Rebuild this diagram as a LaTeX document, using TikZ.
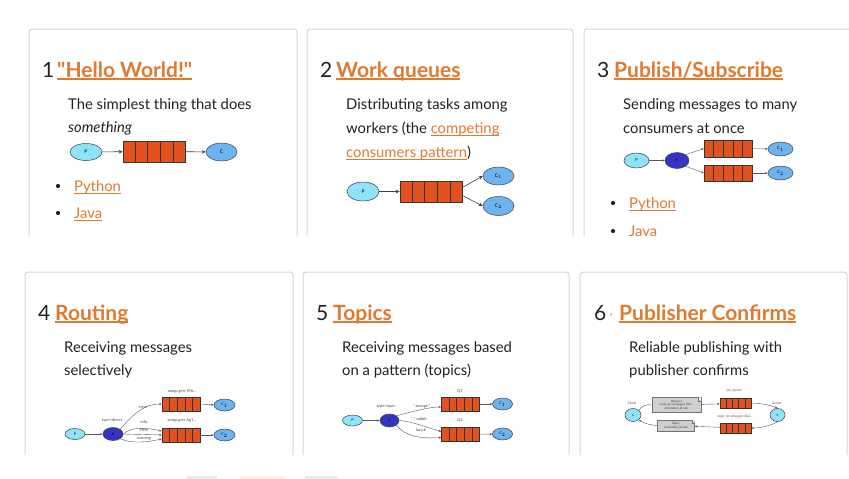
\documentclass[tikz,border=0pt]{standalone}
\usepackage{fontspec}
\setmainfont{Lato}
\usetikzlibrary{arrows.meta,calc,shapes.geometric}
\definecolor{rmqorange}{HTML}{E07A30}
\definecolor{qfill}{HTML}{E2521F}
\definecolor{pfill}{HTML}{8EE3F8}
\definecolor{cfill}{HTML}{6DB3F0}
\definecolor{xfill}{HTML}{3434C4}
\definecolor{cardline}{HTML}{D6D6D6}
\definecolor{txt}{HTML}{222222}
\definecolor{boxgray}{HTML}{CFCFCF}
\newcommand\myul[3]{\setbox0\hbox{#3}\rlap{\rule[-#1]{\wd0}{#2}}\box0}
\newcommand\lnk[1]{\textcolor{rmqorange}{\myul{2.8pt}{0.9pt}{#1}}}
\newcommand\qcells[1]{\foreach \i in {1,...,4}{\draw[qdiv] ($(#1.south west)!\i/5!(#1.south east)$) -- ($(#1.north west)!\i/5!(#1.north east)$);}}
\tikzset{
 num/.style={anchor=base west, inner sep=0, font=\fontsize{21}{24}\selectfont, text=txt},
 head/.style={anchor=base west, inner sep=0, font=\fontsize{21}{24}\selectfont\bfseries, text=rmqorange},
 body/.style={anchor=base west, inner sep=0, font=\fontsize{14.8}{17}\selectfont, text=txt},
 card/.style={draw=cardline, line width=1pt, rounded corners=3pt},
 ell/.style={ellipse, draw=black!75, line width=0.5pt, inner sep=0},
 pnode/.style={ell, fill=pfill},
 cnode/.style={ell, fill=cfill},
 xnode/.style={ell, fill=xfill},
 queue/.style={draw=black!80, fill=qfill, line width=0.6pt, inner sep=0},
 qdiv/.style={draw=black!80, line width=0.5pt},
 arr/.style={-{Stealth[length=4pt,width=3.5pt]}, line width=0.6pt, draw=black!75},
 sarr/.style={-{Stealth[length=2.6pt,width=2.2pt]}, line width=0.4pt, draw=black!65},
 tiny/.style={inner sep=0, font=\fontsize{4}{4.4}\selectfont, text=black!70},
 graybox/.style={draw=black!55, fill=boxgray, line width=0.4pt, inner sep=0.8pt, align=center, font=\fontsize{3}{3.4}\selectfont, text=black!75},
 bullet/.style={circle, fill=txt, inner sep=0, minimum size=4.2pt},
}
\begin{document}
\begin{tikzpicture}[x=1pt,y=-1pt]
\useasboundingbox (0,0) rectangle (849,479);
\fill[white] (0,0) rectangle (849,479);

% ---------------- top row ----------------
\begin{scope}
\clip (0,0) rectangle (849,235);
\draw[card] (29,245) -- (29,29) -- (297,29) -- (297,245);
\draw[card] (307,245) -- (307,29) -- (573,29) -- (573,245);
\draw[card] (584,245) -- (584,29) -- (870,29);

% card 1
\node[num] (n1) at (42,77) {1};
\node[head] (h1) at (57,77) {\myul{3pt}{1.7pt}{\textquotedbl Hello World!\textquotedbl}};
\node[body] (t11) at (68,109) {The simplest thing that does};
\node[body] (t12) at (68,132) {\itshape something};
\node[pnode, minimum width=32, minimum height=17] (p1) at (86,152) {\tiny P};
\node[queue, minimum width=62, minimum height=21] (q1) at (154,151.5) {};
\qcells{q1}
\node[cnode, minimum width=31, minimum height=18] (c1) at (221.5,152) {\tiny C};
\draw[arr] (p1) -- (q1);
\draw[arr] (q1) -- (c1);
\node[bullet] (b11) at (58,186) {};
\node[body] (py1) at (74,191) {\lnk{Python}};
\node[bullet] (b12) at (58,213) {};
\node[body] (ja1) at (74,218) {\lnk{Java}};

% card 2
\node[num] (n2) at (320,77) {2};
\node[head] (h2) at (336,77) {\myul{3pt}{1.7pt}{Work queues}};
\node[body] (t21) at (346,109) {Distributing tasks among};
\node[body] (t22) at (346,133) {workers (the \lnk{competing}};
\node[body] (t23) at (346,157) {\lnk{consumers pattern})};
\node[pnode, minimum width=32, minimum height=19] (p2) at (363,191.5) {\tiny P};
\node[queue, minimum width=62, minimum height=21] (q2) at (431,191.5) {};
\qcells{q2}
\node[cnode, minimum width=31, minimum height=18] (c21) at (498.5,176) {\tiny C$_1$};
\node[cnode, minimum width=31, minimum height=19] (c22) at (498.5,206) {\tiny C$_2$};
\draw[arr] (p2) -- (q2);
\draw[arr] ([yshift=4pt]q2.east) -- (c21.west);
\draw[arr] ([yshift=-4pt]q2.east) -- (c22.west);

% card 3
\node[num] (n3) at (597,77) {3};
\node[head] (h3) at (614,77) {\myul{3pt}{1.7pt}{Publish/Subscribe}};
\node[body] (t31) at (623,109) {Sending messages to many};
\node[body] (t32) at (623,133) {consumers at once};
\node[pnode, minimum width=25, minimum height=15] (p3) at (636.5,160.5) {\fontsize{4}{4}\selectfont P};
\node[xnode, minimum width=24, minimum height=16] (x3) at (677,160.5) {\fontsize{4}{4}\selectfont X};
\node[queue, minimum width=48, minimum height=17] (q31) at (728,148.5) {};
\qcells{q31}
\node[queue, minimum width=48, minimum height=16] (q32) at (728,173) {};
\qcells{q32}
\node[cnode, minimum width=25, minimum height=14] (c31) at (780.5,149) {\fontsize{4}{4}\selectfont C$_1$};
\node[cnode, minimum width=25, minimum height=14] (c32) at (780.5,173) {\fontsize{4}{4}\selectfont C$_2$};
\draw[sarr] (p3) -- (x3);
\draw[sarr] (x3.north east) -- (q31.west);
\draw[sarr] (x3.south east) -- (q32.west);
\draw[sarr] (q31) -- (c31);
\draw[sarr] (q32) -- (c32);
\node[bullet] (b31) at (613,203) {};
\node[body] (py3) at (629,208) {\lnk{Python}};
\node[bullet] (b32) at (613,231) {};
\node[body] (ja3) at (629,236) {\lnk{Java}};
\end{scope}

% ---------------- bottom row ----------------
\draw[card] (25,455) -- (25,272) -- (293,272) -- (293,455);
\draw[card] (303,455) -- (303,272) -- (569,272) -- (569,455);
\draw[card] (580,455) -- (580,272) -- (847,272) -- (847,455);

% card 4
\node[num] (n4) at (38,320) {4};
\node[head] (h4) at (55,320) {\myul{3pt}{1.7pt}{Routing}};
\node[body] (t41) at (64,352) {Receiving messages};
\node[body] (t42) at (64,375) {selectively};
\node[pnode, minimum width=20, minimum height=11] (p4) at (75,434) {\fontsize{3.5}{3.5}\selectfont P};
\node[xnode, minimum width=20, minimum height=13] (x4) at (113,434) {\fontsize{3.5}{3.5}\selectfont X};
\node[queue, minimum width=38, minimum height=14, line width=0.5pt] (q41) at (181,404) {};
\qcells{q41}
\node[queue, minimum width=38, minimum height=14, line width=0.5pt] (q42) at (181,435) {};
\qcells{q42}
\node[cnode, minimum width=21, minimum height=12] (c41) at (224.5,405) {\fontsize{3.5}{3.5}\selectfont C$_1$};
\node[cnode, minimum width=21, minimum height=12] (c42) at (224.5,435) {\fontsize{3.5}{3.5}\selectfont C$_2$};
\draw[sarr] (p4) -- (x4);
\draw[sarr] (x4.north east) .. controls (135,412) and (145,404) .. (q41.west);
\draw[sarr] (x4.east) .. controls (132,426) and (148,428) .. ([yshift=4pt]q42.west);
\draw[sarr] (x4.east) -- (q42.west);
\draw[sarr] (x4.south east) .. controls (132,444) and (148,442) .. ([yshift=-4pt]q42.west);
\draw[sarr] (q41) -- (c41);
\draw[sarr] (q42) -- (c42);
\node[tiny] (l41) at (182,391) {amqp.gen-S9b...};
\node[tiny] (l42) at (182,420) {amqp.gen-Ag1...};
\node[tiny] (l43) at (143,407) {error};
\node[tiny] (l44) at (112,420) {type=direct};
\node[tiny] (l45) at (144,422.5) {info};
\node[tiny] (l46) at (144,430) {error};
\node[tiny] (l47) at (144,438) {warning};

% card 5
\node[num] (n5) at (316,320) {5};
\node[head] (h5) at (333,320) {\myul{3pt}{1.7pt}{Topics}};
\node[body] (t51) at (342,352) {Receiving messages based};
\node[body] (t52) at (342,375) {on a pattern (topics)};
\node[pnode, minimum width=20, minimum height=11] (p5) at (352.5,420.5) {\fontsize{3.5}{3.5}\selectfont P};
\node[xnode, minimum width=19, minimum height=13] (x5) at (389.5,420.5) {\fontsize{3.5}{3.5}\selectfont X};
\node[queue, minimum width=38, minimum height=14, line width=0.5pt] (q51) at (460.5,404) {};
\qcells{q51}
\node[queue, minimum width=38, minimum height=14, line width=0.5pt] (q52) at (460.5,434.5) {};
\qcells{q52}
\node[cnode, minimum width=20, minimum height=12] (c51) at (502.5,404) {\fontsize{3.5}{3.5}\selectfont C$_1$};
\node[cnode, minimum width=20, minimum height=12] (c52) at (502.5,434) {\fontsize{3.5}{3.5}\selectfont C$_2$};
\draw[sarr] (p5) -- (x5);
\draw[sarr] (x5.north east) .. controls (412,412) and (428,407) .. ([yshift=-3pt]q51.west);
\draw[sarr] (x5.east) .. controls (415,422) and (428,428) .. ([yshift=3pt]q52.west);
\draw[sarr] (x5.south east) .. controls (405,436) and (420,439) .. ([yshift=-3pt]q52.west);
\draw[sarr] (q51) -- (c51);
\draw[sarr] (q52) -- (c52);
\node[tiny] (l51) at (460,391) {Q1};
\node[tiny] (l52) at (460,420) {Q2};
\node[tiny] (l53) at (386,406.5) {type=topic};
\node[tiny] (l54) at (422,406.5) {*.orange.*};
\node[tiny] (l55) at (419,419) {*.*.rabbit};
\node[tiny] (l56) at (421,430) {lazy.\#};

% card 6
\node[num] (n6) at (594,320) {6};
\node[num, text=black!70] (tk6) at (610,320) {\fontsize{9}{9}\selectfont '};
\node[head] (h6) at (619,320) {\myul{3pt}{1.7pt}{Publisher Confirms}};
\node[body] (t61) at (629,352) {Reliable publishing with};
\node[body] (t62) at (629,375) {publisher confirms};
\node[pnode, minimum width=16, minimum height=13] (cl6) at (633,415) {\fontsize{3}{3}\selectfont C};
\node[pnode, minimum width=15, minimum height=13] (sv6) at (777.5,415) {\fontsize{3}{3}\selectfont S};
\node[graybox, minimum width=49, minimum height=15] (rq6) at (676.5,405) {Request\\reply\_to=amqp.gen-Xa2...\\correlation\_id=abc};
\fill[white] (rq6.north east) -- ++(-3.5,0) -- ++(3.5,3.5) -- cycle;
\draw[black!55, line width=0.3pt] ([xshift=-3.5pt]rq6.north east) -- ++(0,3.5) -- ++(3.5,0);
\node[graybox, minimum width=37, minimum height=11] (rp6) at (676,425.5) {Reply\\correlation\_id=abc};
\fill[white] (rp6.north east) -- ++(-3,0) -- ++(3,3) -- cycle;
\draw[black!55, line width=0.3pt] ([xshift=-3pt]rp6.north east) -- ++(0,3) -- ++(3,0);
\node[queue, minimum width=31, minimum height=10, line width=0.5pt] (q61) at (735.5,403.5) {};
\qcells{q61}
\node[queue, minimum width=31, minimum height=10, line width=0.5pt] (q62) at (735.5,428) {};
\qcells{q62}
\node[tiny, font=\fontsize{3.3}{3.5}\selectfont] (l61) at (632,403) {Client};
\node[tiny, font=\fontsize{3.3}{3.5}\selectfont] (l62) at (777,403) {Server};
\node[tiny, font=\fontsize{3.3}{3.5}\selectfont] (l63) at (734,391) {rpc\_queue};
\node[tiny, font=\fontsize{3.3}{3.5}\selectfont] (l64) at (735,417) {reply\_to=amq.gen-Xa2...};
\draw[line width=0.4pt, draw=black!65] (cl6.north east) .. controls (642,406) and (646,404) .. (rq6.west);
\draw[sarr] (rq6) -- (q61);
\draw[sarr] (q61.east) .. controls (764,403) and (772,406) .. (sv6.north);
\draw[sarr] (sv6.south) .. controls (772,425) and (762,428) .. (q62.east);
\draw[sarr] (q62) -- (rp6);
\draw[sarr] (rp6.west) .. controls (648,425) and (642,422) .. (cl6.south east);

% faint tabs at bottom
\fill[teal!12, rounded corners=1pt] (186,476) rectangle (217,481);
\fill[orange!12, rounded corners=1pt] (240,476) rectangle (284,481);
\fill[teal!12, rounded corners=1pt] (305,476) rectangle (338,481);
\end{tikzpicture}
\end{document}
